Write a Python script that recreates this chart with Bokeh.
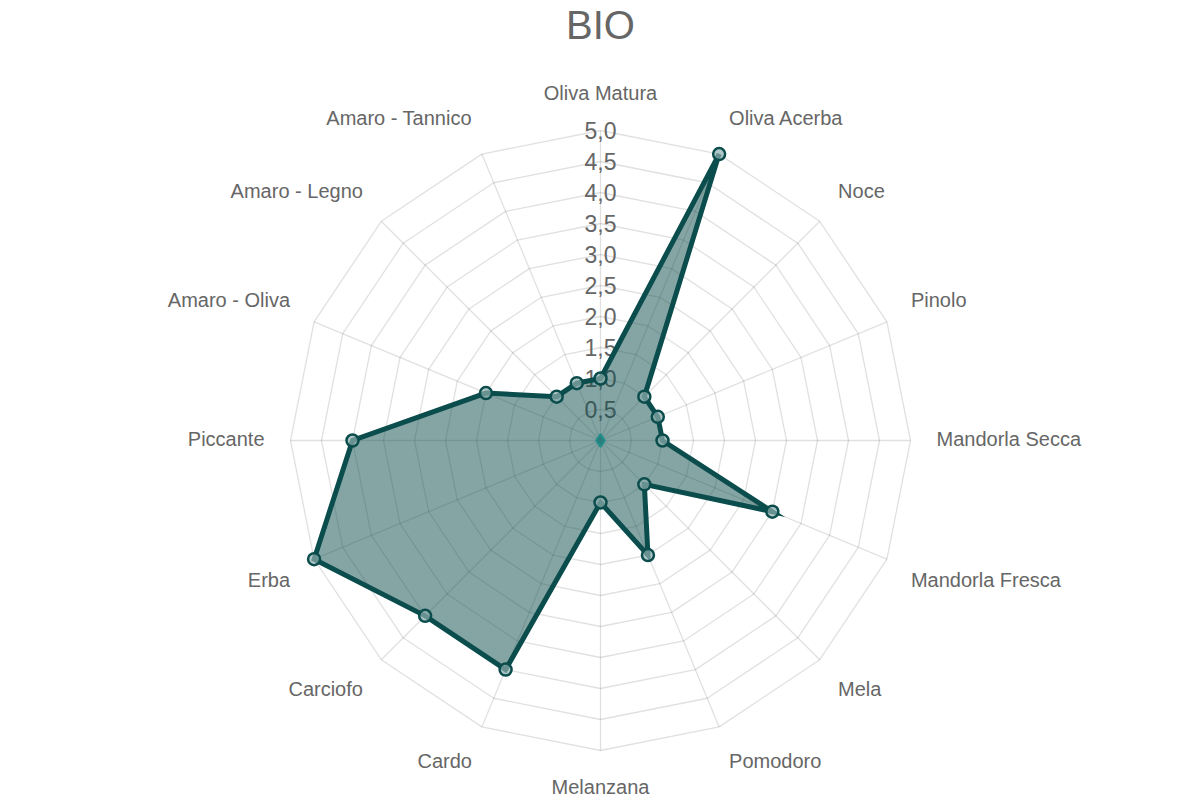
import numpy as np
from bokeh.plotting import figure
from bokeh.models import Range1d, ColumnDataSource
from bokeh.core.properties import value
from bokeh.embed import file_html
from bokeh.resources import INLINE

title_text = "BIO"
categories = ["Oliva Matura", "Oliva Acerba", "Noce", "Pinolo", "Mandorla Secca",
              "Mandorla Fresca", "Mela", "Pomodoro", "Melanzana", "Cardo", "Carciofo",
              "Erba", "Piccante", "Amaro - Oliva", "Amaro - Legno", "Amaro - Tannico"]
values = [1.0, 5.0, 1.0, 1.0, 1.0, 3.0, 1.0, 2.0, 1.0, 4.0, 4.0, 5.0, 4.0, 2.0, 1.0, 1.0]
tick_values = [0.5, 1.0, 1.5, 2.0, 2.5, 3.0, 3.5, 4.0, 4.5, 5.0]
tick_labels = ["0,5", "1,0", "1,5", "2,0", "2,5", "3,0", "3,5", "4,0", "4,5", "5,0"]

FONT = value("Liberation Sans")
TXT = "#666666"
LINE = "#0b4c4c"
W, H = 1200, 800
PX = 62.0              # pixels per unit
CX, CY = 600.0, 440.0  # centre in canvas pixels

p = figure(width=W, height=H, output_backend="svg", toolbar_location=None,
           x_range=Range1d(-CX / PX, (W - CX) / PX),
           y_range=Range1d(-(H - CY) / PX, CY / PX),
           x_axis_type=None, y_axis_type=None, min_border=0,
           outline_line_color=None, background_fill_color="white",
           border_fill_color="white")
p.grid.visible = False

n = len(categories)
ang = np.arange(n) * 2 * np.pi / n
sx, sy = np.sin(ang), np.cos(ang)
rmax = tick_values[-1]

# rings
for t in tick_values:
    p.patch(list(t * sx), list(t * sy), fill_color=None, line_color="black",
            line_alpha=0.12, line_width=1.3)
# spokes
p.multi_line([[0, rmax * a] for a in sx], [[0, rmax * b] for b in sy],
             line_color="black", line_alpha=0.12, line_width=1.3)

# tick labels
p.text(x=[0] * len(tick_values), y=tick_values, text=tick_labels,
       text_font=FONT, text_font_size="23px", text_color=TXT,
       text_align="center", text_baseline="middle")

# category labels
lr = rmax + 26 / PX
aligns, offs = [], []
for a in ang:
    d = np.degrees(a)
    if abs(d) < 1e-6 or abs(d - 180) < 1e-6:
        aligns.append("center")
    elif d < 180:
        aligns.append("left")
    else:
        aligns.append("right")
    if abs(d - 90) < 1e-6 or abs(d - 270) < 1e-6:
        offs.append(-2)
    elif d < 90 or d > 270:
        offs.append(-12)
    else:
        offs.append(10.5)
lab = ColumnDataSource(dict(x=lr * sx, y=lr * sy, t=categories, al=aligns, yo=offs))
p.text(x="x", y="y", text="t", text_align="al", y_offset="yo", source=lab,
       text_font=FONT, text_font_size="20px", text_color=TXT, text_baseline="middle")

# data
v = np.array(values)
px_, py_ = v * sx, v * sy
p.patch(list(px_), list(py_), fill_color=LINE, fill_alpha=0.5,
        line_color=LINE, line_width=5, line_join="miter")
p.scatter(px_, py_, size=12, marker="circle", fill_color="#8fb0af", fill_alpha=0.7,
          line_color=LINE, line_width=2.5)
p.scatter([0], [0], size=13, marker="diamond", fill_color="#2b7d7a",
          line_color="#1f8f8b", line_width=2)

# title
p.text(x=[0], y=[(CY - 24) / PX], text=[title_text], text_font=FONT,
       text_font_size="40px", text_color=TXT, text_align="center",
       text_baseline="middle")

open("out.html", "w").write(file_html(p, INLINE))
